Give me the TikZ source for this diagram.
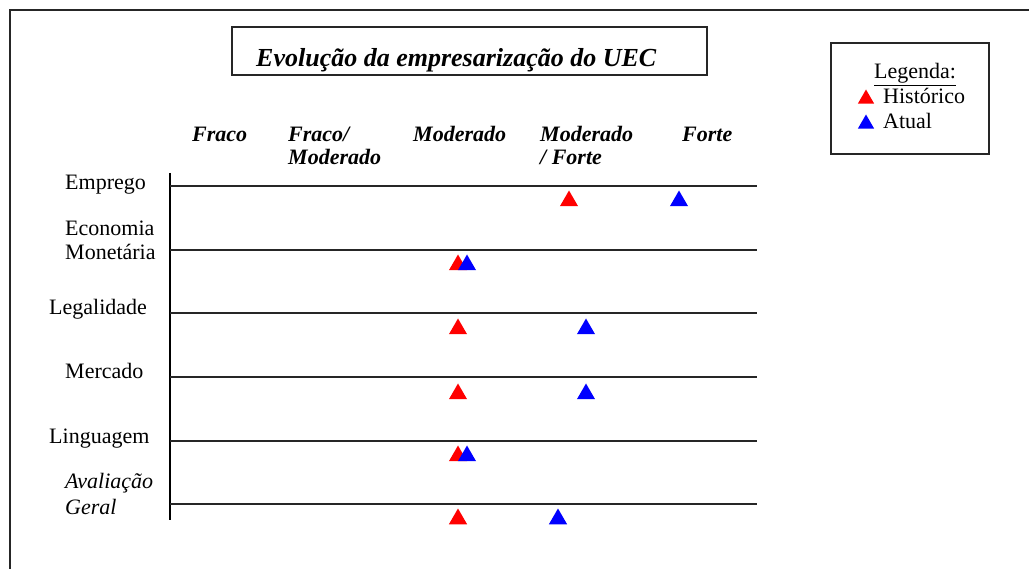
\documentclass[tikz,border=0pt]{standalone}
\usepackage{fontspec}
\setmainfont{Liberation Serif}
\usetikzlibrary{shapes.geometric}

\tikzset{
    hist/.style={regular polygon, regular polygon sides=3, fill=red, draw=none, inner sep=0pt, minimum size=21pt},
    atual/.style={hist, fill=blue},
    cab/.style={anchor=base west, inner sep=0pt, align=left, font=\fontsize{22}{23}\selectfont\bfseries\itshape},
    rotulo/.style={anchor=base west, inner sep=0pt, align=left, font=\fontsize{22}{24}\selectfont},
    caixa/.style={draw=black!85, line width=1.3pt},
}

\begin{document}
\begin{tikzpicture}[x=1pt,y=-1pt]
        \useasboundingbox (0,0) rectangle (1029,569);
        % Frame:
        \draw[caixa] (1029,10) -- (10,10) -- (10,569);

        % Title:
        \draw[caixa] (232,27) rectangle (707,75);
        \node[anchor=base west, inner sep=0pt, font=\fontsize{26}{28}\selectfont\bfseries\itshape] (titulo) at (256,67) {Evolução da empresarização do UEC};

        % Legend:
        \draw[caixa] (831,43) rectangle (989,154);
        \node[anchor=base, inner sep=0pt, font=\fontsize{22}{24}\selectfont] (legenda) at (915,79) {\underline{Legenda:}};
        \node[rotulo] (leg-hist) at (883,104) {Histórico};
        \node[rotulo] (leg-atual) at (883,129) {Atual};
        \node[hist, minimum size=19pt] (tri-hist) at (866,99) {};
        \node[atual, minimum size=19pt] (tri-atual) at (866,124) {};

        % Scale (multi-line nodes sit on their last line):
        \node[cab] (fraco) at (192,142) {Fraco};
        \node[cab] (fraco-mod) at (288,165) {Fraco/\\Moderado};
        \node[cab] (moderado) at (413,142) {Moderado};
        \node[cab] (mod-forte) at (540,165) {Moderado\\/ Forte};
        \node[cab] (forte) at (682,142) {Forte};

        % Axes:
        \coordinate (eixo-topo) at (170,173);
        \coordinate (eixo-base) at (170,520);
        \draw[line width=1.3pt] (eixo-topo) -- (eixo-base);
        \foreach \y/\nome in {186/emprego, 250/economia, 313/legalidade, 377/mercado, 441/linguagem, 504/geral}
        {
            \coordinate (ini-\nome) at (170,\y);
            \coordinate (fim-\nome) at (757,\y);
            \draw[line width=1.3pt, black!85] (ini-\nome) -- (fim-\nome);
        }

        % Rows:
        \node[rotulo] (emprego) at (65,190) {Emprego};
        \node[rotulo] (economia) at (65,260) {Economia\\Monetária};
        \node[rotulo] (legalidade) at (49,315) {Legalidade};
        \node[rotulo] (mercado) at (65,379) {Mercado};
        \node[rotulo] (linguagem) at (49,443) {Linguagem};
        \node[rotulo, font=\fontsize{22}{25}\selectfont\itshape] (geral) at (65,514) {Avaliação\\Geral};

        %marks
        \node[hist] (h-emprego) at (569,201) {};
        \node[atual] (a-emprego) at (679,201) {};
        \node[hist] (h-economia) at (458,265) {};
        \node[atual] (a-economia) at (467,265) {};
        \node[hist] (h-legalidade) at (458,329) {};
        \node[atual] (a-legalidade) at (586,329) {};
        \node[hist] (h-mercado) at (458,394) {};
        \node[atual] (a-mercado) at (586,394) {};
        \node[hist] (h-linguagem) at (458,456) {};
        \node[atual] (a-linguagem) at (467,456) {};
        \node[hist] (h-geral) at (458,519) {};
        \node[atual] (a-geral) at (558,519) {};
    \end{tikzpicture}
\end{document}
